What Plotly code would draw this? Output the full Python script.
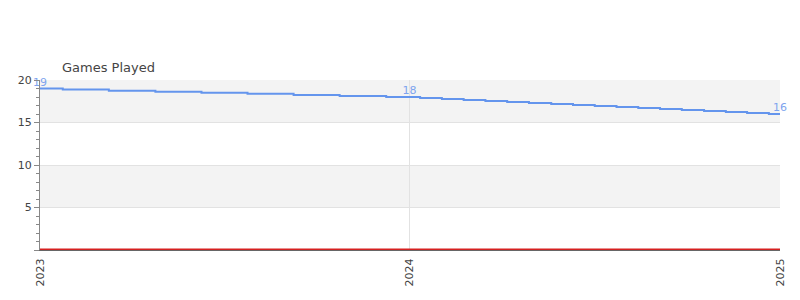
import plotly.graph_objects as go

# Data
dates = [
    "2023-01-01", "2023-02-15", "2023-04-02", "2023-05-18", "2023-07-02",
    "2023-08-17", "2023-10-01", "2023-11-16", "2024-01-01",
    "2024-01-22", "2024-02-13", "2024-03-05", "2024-03-27", "2024-04-17",
    "2024-05-09", "2024-05-31", "2024-06-21", "2024-07-13", "2024-08-03",
    "2024-08-25", "2024-09-15", "2024-10-07", "2024-10-29", "2024-11-19",
    "2024-12-10", "2025-01-01",
]
games_played = [
    19.0, 18.88, 18.75, 18.62, 18.5, 18.38, 18.25, 18.12, 18.0,
    17.88, 17.76, 17.65, 17.53, 17.41, 17.29, 17.18, 17.06, 16.94,
    16.82, 16.71, 16.59, 16.47, 16.35, 16.24, 16.12, 16.0,
]
labeled_idx = [0, 8, 25]
baseline = [0] * len(dates)
band_ranges = [(5, 10), (15, 20)]
y_ticks = [0, 5, 10, 15, 20]
y_tick_text = ["", "5", "10", "15", "20"]
x_ticks = ["2023-01-01", "2024-01-01", "2025-01-01"]
x_tick_text = ["2023", "2024", "2025"]

labels = [str(round(v)) if i in labeled_idx else "" for i, v in enumerate(games_played)]

BLUE = "#6495ED"
FONT = "DejaVu Sans"

fig = go.Figure()

fig.add_trace(go.Scatter(
    x=dates, y=baseline, mode="lines",
    line=dict(color="#d62020", width=3),
    hoverinfo="skip", showlegend=False, cliponaxis=False,
))

fig.add_trace(go.Scatter(
    x=dates, y=games_played, mode="lines+text",
    line=dict(color=BLUE, width=2, shape="hvh"),
    text=labels, textposition="top center",
    textfont=dict(family=FONT, size=11, color="#7ea4ee"),
    cliponaxis=False, showlegend=False,
))

shapes = []
for lo, hi in band_ranges:
    shapes.append(dict(type="rect", xref="paper", yref="y", x0=0, x1=1, y0=lo, y1=hi,
                       fillcolor="#f3f3f3", line=dict(width=0), layer="below"))

fig.update_layout(
    width=800, height=300,
    margin=dict(l=40, r=20, t=80, b=50),
    paper_bgcolor="white", plot_bgcolor="white",
    shapes=shapes,
    font=dict(family=FONT, size=11, color="#444"),
    title=dict(text="Games Played", font=dict(family=FONT, size=13, color="#444"),
               xref="container", yref="container", x=62/800, xanchor="left",
               y=1 - 67/300, yanchor="middle"),
)

fig.update_xaxes(
    type="date", range=["2023-01-01", "2025-01-01"],
    tickvals=x_ticks, ticktext=x_tick_text, tickangle=-90,
    showgrid=True, gridcolor="#e2e2e2", gridwidth=1,
    showline=True, linecolor="#666", linewidth=1,
    ticks="", zeroline=False, ticklabelstandoff=3,
    tickfont=dict(family=FONT, size=11, color="#444"),
)

fig.update_yaxes(
    range=[0, 20], tickvals=y_ticks, ticktext=y_tick_text,
    showgrid=True, gridcolor="#e2e2e2", gridwidth=1,
    showline=True, linecolor="#888", linewidth=1,
    ticks="outside", ticklen=5, tickcolor="#888",
    minor=dict(dtick=1, ticks="outside", ticklen=3, tickcolor="#888", showgrid=False),
    zeroline=False,
    tickfont=dict(family=FONT, size=11, color="#444"),
)

fig.write_html("out.html")
